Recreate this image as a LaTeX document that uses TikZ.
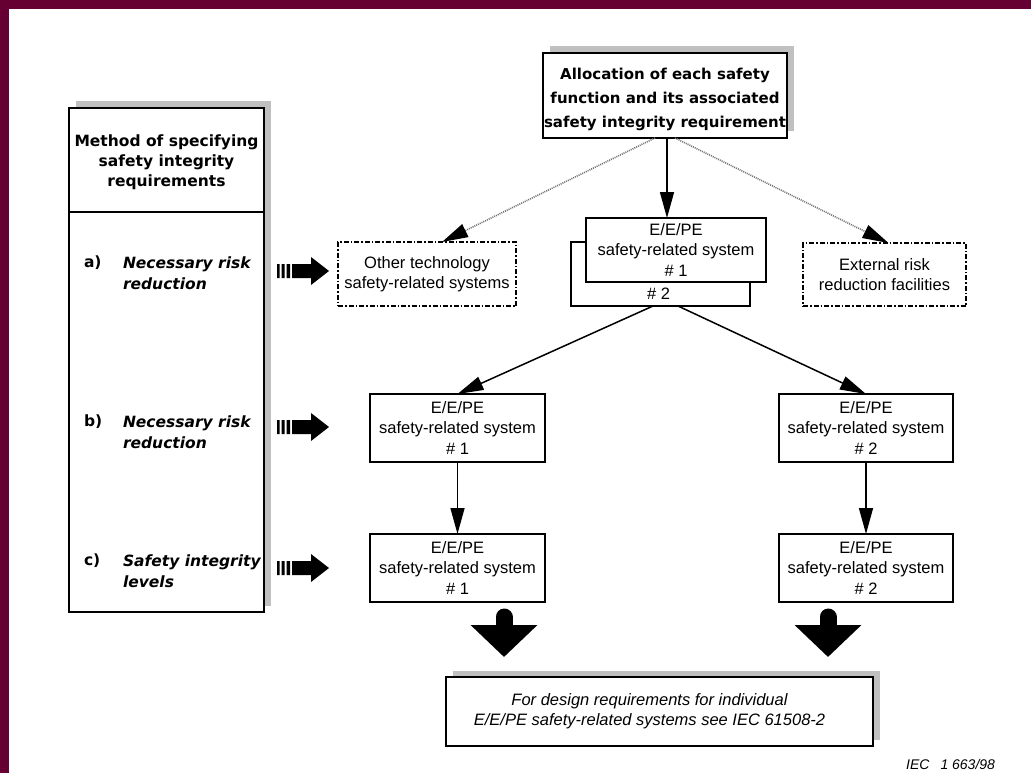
\documentclass[tikz,border=0pt]{standalone}
\usepackage{fontspec}
\setmainfont{Liberation Sans}
\newfontfamily\dejavu{DejaVu Sans}
\usetikzlibrary{arrows.meta,calc,shadows}

\definecolor{framemaroon}{RGB}{102,0,51}
\definecolor{shadowgray}{RGB}{192,192,192}
\definecolor{dotgray}{RGB}{115,115,115}

\newcommand\sysfont{\fontsize{16.5}{20.5}\selectfont}
\newcommand\headfont{\dejavu\bfseries\fontsize{15.5}{20}\selectfont}
\newcommand\allocfont{\dejavu\bfseries\fontsize{15}{24}\selectfont}
\newcommand\itemfont{\dejavu\bfseries\fontsize{15.5}{21}\selectfont}
\newcommand\notefont{\itshape\fontsize{16.5}{20}\selectfont}

\tikzset{
  % three bars followed by a thick arrow
  stripearrow/.pic={
    \fill (0,-7) rectangle (2.5,7) (4.5,-7) rectangle (7.5,7)
          (9.5,-7) rectangle (13,7) (15,-7) rectangle (35,7);
    \fill (34,-14) -- (52,0) -- (34,14) -- cycle;
  }
}

\begin{document}
\begin{tikzpicture}[x=1pt,y=-1pt,
  every node/.style={inner sep=0pt,outer sep=0pt},
  boxdim/.style 2 args={minimum width=#1,minimum height=#2},
  solidbox/.style={draw,line width=1.5pt,fill=white,align=center,font=\sysfont},
  dashbox/.style={draw,line width=1.4pt,fill=white,align=center,font=\sysfont,
                  dash pattern=on 5pt off 2pt on 1.5pt off 2pt},
  shadowbox/.style={drop shadow={shadow xshift=6.5pt,shadow yshift=6.5pt,
                    fill=shadowgray,opacity=1}},
  conn/.style={line width=1.5pt,-{Triangle[length=26pt,width=14pt]}},
  dotconn/.style={line width=1.6pt,dotgray,dash pattern=on 1pt off 1pt,
                  -{Triangle[length=26pt,width=14pt,color=black]}},
  bigarrow/.style={line width=17pt,line cap=round,-{Triangle[length=32pt,width=65pt]}},
]
\useasboundingbox (0,0) rectangle (1031,773);
\fill[white] (0,0) rectangle (1031,773);
\fill[framemaroon] (0,0) rectangle (1031,9);
\fill[framemaroon] (0,0) rectangle (9,773);

% left column: methods of specifying the requirements
\node[draw,line width=1.6pt,fill=white,boxdim={195pt}{504pt},shadowbox] (col) at (166.5,360) {};
\coordinate (divlvl) at (0,212);
\draw[line width=1.5pt] (col.west |- divlvl) -- (col.east |- divlvl);
\node[font=\headfont,align=center] (colhead) at (166.5,162)
  {Method of specifying\\safety integrity\\requirements};

\node[font=\itemfont,anchor=west] (la) at (84,263) {a)};
\node[font=\itemfont\itshape,anchor=west,align=left] (ta) at (123,273.5) {Necessary risk\\reduction};
\node[font=\itemfont,anchor=west] (lb) at (84,422) {b)};
\node[font=\itemfont\itshape,anchor=west,align=left] (tb) at (123,432.5) {Necessary risk\\reduction};
\node[font=\itemfont,anchor=west] (lc) at (84,561) {c)};
\node[font=\itemfont\itshape,anchor=west,align=left] (tc) at (123,571.5) {Safety integrity\\levels};

% allocation box
\node[draw,line width=1.5pt,fill=white,boxdim={244pt}{85pt},shadowbox] (alloc) at (665,95.5) {};
\node[font=\allocfont,align=center] (alloctext) at ($(alloc.center)+(0,3.5)$)
  {Allocation of each safety\\function and its associated\\safety integrity requirement};

% first level
\node[dashbox,boxdim={178pt}{64pt}] (other) at (427,274)
  {Other technology\\safety-related systems};
\node[solidbox,boxdim={179pt}{64pt}] (sysB) at (660.5,274) {};
\node[font=\sysfont] (sysBlab) at ($(sysB.south)+(-2,-12)$) {\# 2};
\node[solidbox,boxdim={180pt}{64pt}] (sysA) at (676,250)
  {E/E/PE\\safety-related system\\\# 1};
\node[dashbox,boxdim={163pt}{63pt}] (ext) at (884.5,274.5)
  {External risk\\reduction facilities};

% second and third levels
\node[solidbox,boxdim={175pt}{68pt}] (b1) at (457.5,428) {E/E/PE\\safety-related system\\\# 1};
\node[solidbox,boxdim={175pt}{68pt}] (c1) at (457.5,568) {E/E/PE\\safety-related system\\\# 1};
\node[solidbox,boxdim={174pt}{68pt}] (b2) at (866,428) {E/E/PE\\safety-related system\\\# 2};
\node[solidbox,boxdim={174pt}{68pt}] (c2) at (866,568) {E/E/PE\\safety-related system\\\# 2};

% final note
\node[draw,line width=1.5pt,fill=white,boxdim={427pt}{69pt},shadowbox] (final) at (659.5,711.5) {};
\node[font=\notefont,align=center] (finaltext) at ($(final.center)+(-10,0)$)
  {For design requirements for individual\\E/E/PE safety-related systems see IEC 61508-2};
\node[font=\itshape\fontsize{14}{14}\selectfont,anchor=east] (ieclabel) at (995,764)
  {IEC\hspace*{11pt}1 663/98};

% connectors
\draw[conn] ($(alloc.south)+(2,0)$) coordinate (adown) -- (adown |- sysA.north);
\draw[dotconn] ($(alloc.south)+(-10,0)$) -- ($(other.north)+(15,0)$);
\draw[dotconn] ($(alloc.south)+(10,0)$) -- ($(ext.north)+(4,0)$);
\draw[conn] ($(sysB.south)+(-7.5,0)$) -- (b1.north);
\draw[conn] ($(sysB.south)+(17.5,0)$) -- (b2.north);
\draw[conn] (b1.south) -- (c1.north);
\draw[conn] (b2.south) -- (c2.north);
\draw[bigarrow] ($(c1.south)+(46.5,15)$) -- ($(final.north)+(-155.5,-20)$);
\draw[bigarrow] ($(c2.south)+(-38,15)$) -- ($(final.north)+(168.5,-20)$);

% method arrows
\pic at ($(other.west)+(-61,-3)$) {stripearrow};
\pic at ($(b1.west)+(-93,-1)$) {stripearrow};
\pic at ($(c1.west)+(-93,0)$) {stripearrow};
\end{tikzpicture}
\end{document}
